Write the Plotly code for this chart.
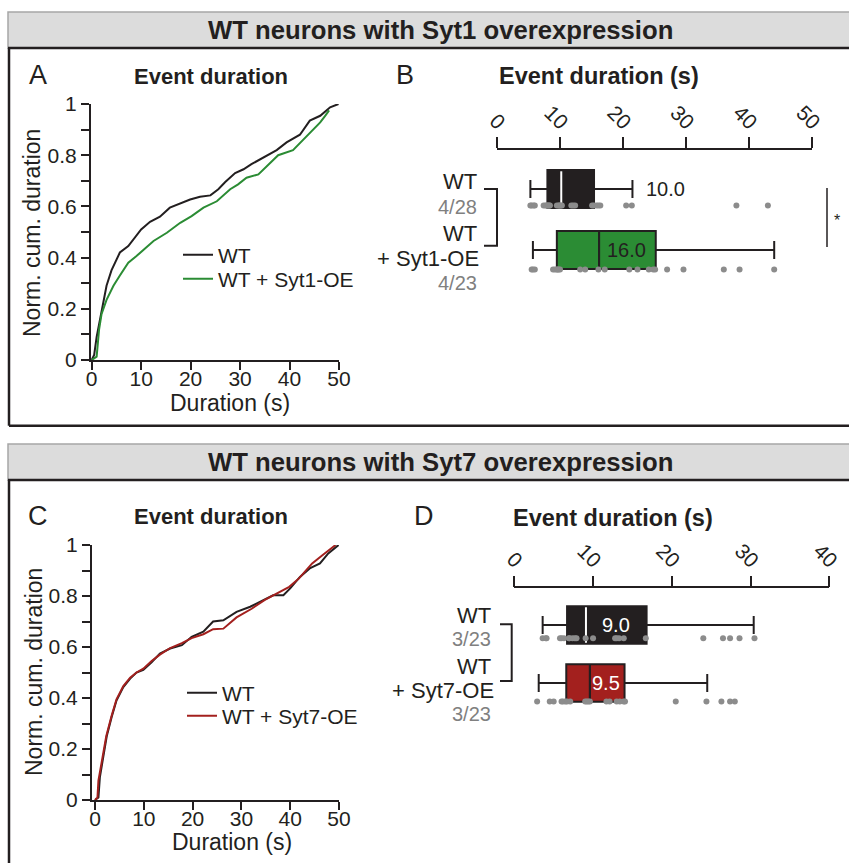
import plotly.graph_objects as go

W, H = 849, 863
DARK = "#231f20"
GREEN = "#2b8c34"
RED = "#a3201e"
PTGREY = "#8c8c8c"
TXTGREY = "#808080"
FONT = "Liberation Sans, Arial, sans-serif"

# ---------------- data ----------------
# Panel A: normalized cumulative duration
a_wt_x = [0, 0.5, 1, 1.5, 2, 3, 4, 5, 5.7, 7.4, 8.4, 10, 11.8, 13.8, 15.8, 18.2, 19.9, 21.9, 24, 25.6,
          27, 29, 30.7, 32.3, 34.7, 37.4, 39.4, 42.1, 44.1, 46.2, 48.2, 49.9]
a_wt_y = [0, 0.02, 0.09, 0.14, 0.2, 0.29, 0.35, 0.39, 0.42, 0.445, 0.47, 0.51, 0.54, 0.56, 0.595, 0.615,
          0.627, 0.638, 0.643, 0.667, 0.695, 0.73, 0.745, 0.765, 0.79, 0.82, 0.85, 0.88, 0.935, 0.954, 0.987, 1.0]
a_oe_x = [0, 1, 1.5, 2, 3, 4.4, 5.7, 7.4, 9, 11.1, 12.5, 15.2, 17.9, 20.2, 22.6, 25.3, 28, 29.6, 31.3,
          33.7, 36, 37.7, 40.7, 42.8, 44.5, 46.2, 47.2, 48]
a_oe_y = [0, 0.013, 0.12, 0.18, 0.235, 0.29, 0.33, 0.38, 0.405, 0.44, 0.465, 0.497, 0.536, 0.562, 0.595,
          0.62, 0.667, 0.686, 0.712, 0.725, 0.77, 0.80, 0.82, 0.86, 0.895, 0.928, 0.954, 0.975]

# Panel C
c_wt_x = [0, 0.7, 1, 1.7, 2.4, 3.4, 4.4, 5.8, 7.2, 8.5, 9.9, 11.6, 13.3, 15.4, 17.8, 19.8, 22.2, 24.2,
          26.3, 29, 31.8, 34.5, 36.5, 38.6, 40, 42, 44, 46.1, 47.8, 49.9]
c_wt_y = [0, 0.01, 0.09, 0.17, 0.25, 0.325, 0.39, 0.443, 0.476, 0.50, 0.51, 0.54, 0.574, 0.594, 0.607,
          0.64, 0.66, 0.70, 0.705, 0.738, 0.758, 0.784, 0.803, 0.803, 0.83, 0.875, 0.908, 0.928, 0.967, 1.0]
c_oe_x = [0, 0.5, 0.7, 1.4, 2.3, 3.4, 4.4, 5.8, 7.2, 8.5, 9.9, 11.6, 13.3, 15.4, 17.8, 19.8, 22.2, 24.2,
          26.3, 29, 32.1, 34.8, 37.8, 39.8, 41.8, 44.5, 46.6, 49.3]
c_oe_y = [0, 0.01, 0.076, 0.155, 0.25, 0.33, 0.395, 0.447, 0.48, 0.50, 0.515, 0.545, 0.57, 0.596, 0.615,
          0.635, 0.65, 0.67, 0.672, 0.716, 0.75, 0.785, 0.817, 0.836, 0.869, 0.928, 0.96, 1.0]

# Panel B: box stats (s) and per-neuron points
b_groups = ["WT", "WT + Syt1-OE"]
b_q1 = [8.0, 9.5]
b_median = [10.2, 16.2]
b_q3 = [15.4, 25.2]
b_lo = [5.3, 5.7]
b_hi = [21.5, 44.0]
b_median_text = ["10.0", "16.0"]
b_n = ["4/28", "4/23"]
b_wt_pts = [5.3, 5.5, 5.8, 6.0, 7.4, 7.7, 7.9, 8.0, 8.1, 8.3, 8.4, 9.5, 9.8, 9.9, 10.1, 10.3, 11.8, 12.1,
            12.4, 15.1, 15.4, 15.8, 16.1, 16.4, 20.5, 21.4, 38.0, 43.0]
b_oe_pts = [5.5, 5.7, 6.0, 8.9, 9.2, 9.5, 9.6, 9.8, 10.0, 13.2, 14.0, 16.1, 17.1, 21.0, 22.3, 24.1, 24.8,
            25.1, 27.0, 29.6, 36.0, 38.5, 44.0]

# Panel D
d_groups = ["WT", "WT + Syt7-OE"]
d_q1 = [6.7, 6.6]
d_median = [9.1, 9.6]
d_q3 = [16.8, 14.0]
d_lo = [3.6, 3.1]
d_hi = [30.4, 24.5]
d_median_text = ["9.0", "9.5"]
d_n = ["3/23", "3/23"]
d_wt_pts = [3.6, 4.0, 5.8, 6.0, 6.3, 6.95, 7.0, 7.4, 7.7, 9.06, 10.0, 12.8, 13.0, 13.3, 13.9, 16.7, 24.0,
            26.5, 27.4, 28.6, 30.5, 4.1, 7.9]
d_oe_pts = [2.9, 4.5, 5.0, 6.0, 6.2, 6.5, 6.7, 7.1, 9.0, 9.2, 9.4, 9.6, 11.7, 12.1, 13.0, 13.4, 13.9,
            14.06, 20.5, 24.4, 26.3, 27.4, 28.0]

cdf_ticks = [0, 10, 20, 30, 40, 50]
cdf_yticks = [0, 0.2, 0.4, 0.6, 0.8, 1]
cdf_yticktext = ["0", "0.2", "0.4", "0.6", "0.8", "1"]
b_ticks = [0, 10, 20, 30, 40, 50]
d_ticks = [0, 10, 20, 30, 40]


def px(x):
    return x / W


def py(y):
    return 1 - y / H


fig = go.Figure()

# ---------- CDF traces (each in its own one-entry legend) ----------
fig.add_trace(go.Scatter(x=a_wt_x, y=a_wt_y, mode="lines", line=dict(color=DARK, width=2),
                         name="WT", xaxis="x", yaxis="y", legend="legend"))
fig.add_trace(go.Scatter(x=a_oe_x, y=a_oe_y, mode="lines", line=dict(color=GREEN, width=2),
                         name="WT + Syt1-OE", xaxis="x", yaxis="y", legend="legend2"))
fig.add_trace(go.Scatter(x=c_wt_x, y=c_wt_y, mode="lines", line=dict(color=DARK, width=2),
                         name="WT", xaxis="x3", yaxis="y3", legend="legend3"))
fig.add_trace(go.Scatter(x=c_oe_x, y=c_oe_y, mode="lines", line=dict(color=RED, width=2),
                         name="WT + Syt7-OE", xaxis="x3", yaxis="y3", legend="legend4"))


# ---------- Box panels ----------
def add_box_panel(xa, ya, q1, med, q3, lo, hi, fills, med_colors, pts_list, pt_offsets, bw):
    positions = [1, 0]
    for i in range(2):
        fig.add_trace(go.Box(y=[positions[i]], q1=[q1[i]], median=[med[i]], q3=[q3[i]],
                             lowerfence=[lo[i]], upperfence=[hi[i]], orientation="h",
                             fillcolor=fills[i], line=dict(color=DARK, width=2), width=bw,
                             whiskerwidth=0.48, boxpoints=False, showlegend=False,
                             hoverinfo="skip", xaxis=xa, yaxis=ya))
        fig.add_trace(go.Scatter(x=[med[i], med[i]], y=[positions[i] - bw / 2 + 0.02, positions[i] + bw / 2 - 0.02],
                                 mode="lines", line=dict(color=med_colors[i], width=2),
                                 showlegend=False, hoverinfo="skip", xaxis=xa, yaxis=ya))
        pts = pts_list[i]
        fig.add_trace(go.Scatter(x=pts, y=[positions[i] - pt_offsets[i]] * len(pts), mode="markers",
                                 marker=dict(color=PTGREY, size=6, line=dict(width=0)),
                                 showlegend=False, hoverinfo="skip", xaxis=xa, yaxis=ya))


add_box_panel("x2", "y2", b_q1, b_median, b_q3, b_lo, b_hi, [DARK, GREEN], ["white", DARK],
              [b_wt_pts, b_oe_pts], [0.27, 0.32], 0.62)
add_box_panel("x4", "y4", d_q1, d_median, d_q3, d_lo, d_hi, [DARK, RED], ["white", DARK],
              [d_wt_pts, d_oe_pts], [0.23, 0.32], 0.65)

# ---------- axes ----------
tickfont = dict(family=FONT, size=21, color=DARK)
cdf_x = dict(range=[-0.2, 50], tickvals=cdf_ticks, ticks="outside", ticklen=8, tickwidth=1.5,
             tickcolor=DARK, showline=True, linecolor=DARK, linewidth=1.5, showgrid=False,
             zeroline=False, tickfont=tickfont, automargin=False, ticklabelstandoff=-9)
cdf_y = dict(range=[0, 1], tickvals=cdf_yticks, ticktext=cdf_yticktext, ticks="outside", ticklen=8,
             tickwidth=1.5, tickcolor=DARK, showline=True, linecolor=DARK, linewidth=1.5,
             showgrid=False, zeroline=False, tickfont=tickfont, automargin=False,
             minor=dict(tickvals=[0.1, 0.3, 0.5, 0.7, 0.9], ticks="outside", ticklen=8, tickwidth=1.5,
                        tickcolor=DARK, showgrid=False))
box_x = dict(side="top", ticks="outside", ticklen=11, tickwidth=1.5, tickcolor=DARK, showline=True,
             linecolor=DARK, linewidth=1.5, showgrid=False, zeroline=False, tickangle=45,
             tickfont=tickfont, automargin=False, ticklabelshift=7, ticklabelstandoff=-5)

fig.update_layout(
    template="none",
    xaxis=dict(domain=[px(90.7), px(339)], anchor="y", **cdf_x),
    yaxis=dict(domain=[py(360), py(104)], anchor="x", **cdf_y),
    xaxis3=dict(domain=[px(91.7), px(339)], anchor="y3", **{**cdf_x, "range": [-0.68, 50]}),
    yaxis3=dict(domain=[py(800), py(545)], anchor="x3", **cdf_y),
    xaxis2=dict(domain=[px(497), px(812)], anchor="y2", range=[0, 50], tickvals=b_ticks, **box_x),
    yaxis2=dict(domain=[py(290), py(150)], anchor="x2", range=[-0.656, 1.639], visible=False,
                type="linear", automargin=False),
    xaxis4=dict(domain=[px(514.3), px(829.3)], anchor="y4", range=[0, 40], tickvals=d_ticks, **box_x),
    yaxis4=dict(domain=[py(730), py(588.3)], anchor="x4", range=[-0.81, 1.633], visible=False,
                type="linear", automargin=False),
)

# ---------- legends ----------
legfont = dict(family=FONT, size=21, color=DARK)


def leg(x, y):
    return dict(x=px(x), y=py(y), xanchor="left", yanchor="middle", font=legfont,
                bgcolor="rgba(0,0,0,0)", borderwidth=0, itemwidth=30)


fig.update_layout(legend=leg(178, 255), legend2=leg(178, 279),
                  legend3=leg(182, 693), legend4=leg(182, 716))

# ---------- frames ----------
shapes = []
for top, bottom in [(12, 425.7), (444, 880)]:
    shapes.append(dict(type="rect", xref="paper", yref="paper", x0=px(8), x1=px(870), y0=py(top), y1=py(top + 36),
                       fillcolor="#dcdcdc", line=dict(color="#a6a6a6", width=1.5), layer="below"))
    shapes.append(dict(type="line", xref="paper", yref="paper", x0=px(8), x1=px(870), y0=py(top + 36), y1=py(top + 36),
                       line=dict(color=DARK, width=2.5)))
    shapes.append(dict(type="line", xref="paper", yref="paper", x0=px(9), x1=px(9), y0=py(top + 36), y1=py(bottom),
                       line=dict(color=DARK, width=2.5)))
    shapes.append(dict(type="line", xref="paper", yref="paper", x0=px(9), x1=px(870), y0=py(bottom), y1=py(bottom),
                       line=dict(color=DARK, width=2.5)))

# brackets
for (xl, xr, yt, yb) in [(484, 497, 189, 245.7), (500, 511.7, 624.3, 681)]:
    shapes.append(dict(type="path", xref="paper", yref="paper",
                       path=f"M {px(xl)},{py(yt)} L {px(xr)},{py(yt)} L {px(xr)},{py(yb)} L {px(xl)},{py(yb)}",
                       line=dict(color=DARK, width=2)))
# significance line
shapes.append(dict(type="line", xref="paper", yref="paper", x0=px(827), x1=px(827), y0=py(188), y1=py(247),
                   line=dict(color=DARK, width=1.5)))
fig.update_layout(shapes=shapes)

# ---------- annotations ----------
anns = []


def ann(text, x, y, size, color=DARK, xanchor="center", bold=False, xref="paper", yref="paper", **kw):
    t = f"<b>{text}</b>" if bold else text
    if xref == "paper":
        x = px(x)
    if yref == "paper":
        y = py(y)
    anns.append(dict(text=t, x=x, y=y, xref=xref, yref=yref, showarrow=False, xanchor=xanchor,
                     yanchor="middle", font=dict(family=FONT, size=size, color=color), **kw))


ann("WT neurons with Syt1 overexpression", 440, 30, 25.7, bold=True)
ann("WT neurons with Syt7 overexpression", 440, 462, 25.7, bold=True)
ann("A", 38, 75, 27)
ann("B", 405, 75, 27)
ann("C", 38, 516, 27)
ann("D", 424, 516, 27)
ann("Event duration", 211, 77, 22, bold=True)
ann("Event duration", 211, 516, 22, bold=True)
ann("Event duration (s)", 599, 76, 23.5, bold=True)
ann("Event duration (s)", 613, 518, 23.5, bold=True)
ann("Norm. cum. duration", 32, 233, 23, textangle=-90)
ann("Norm. cum. duration", 34, 672, 23, textangle=-90)
ann("Duration (s)", 230, 403, 23)
ann("Duration (s)", 232, 842, 23)

# panel B labels
ann("WT", 479, 181, 22, xanchor="right")
ann(b_n[0], 479, 207, 20, color=TXTGREY, xanchor="right")
ann("WT", 479, 233, 22, xanchor="right")
ann("+ Syt1-OE", 481, 258, 22, xanchor="right")
ann(b_n[1], 479, 283, 20, color=TXTGREY, xanchor="right")
ann("*", 837, 220, 16)
ann(b_median_text[0], 26.8, 1, 20, xref="x2", yref="y2")
ann(b_median_text[1], 20.6, 0, 20, xref="x2", yref="y2")

# panel D labels
ann("WT", 493, 615, 22, xanchor="right")
ann(d_n[0], 493, 639, 20, color=TXTGREY, xanchor="right")
ann("WT", 493, 666, 22, xanchor="right")
ann("+ Syt7-OE", 496, 690, 22, xanchor="right")
ann(d_n[1], 493, 714, 20, color=TXTGREY, xanchor="right")
ann(d_median_text[0], 12.9, 1, 20, color="white", xref="x4", yref="y4")
ann(d_median_text[1], 11.6, 0, 20, color="white", xref="x4", yref="y4")

fig.update_layout(annotations=anns)

fig.update_layout(width=W, height=H, autosize=False, margin=dict(l=0, r=0, t=0, b=0, pad=0),
                  paper_bgcolor="white", plot_bgcolor="rgba(0,0,0,0)", boxmode="overlay",
                  font=dict(family=FONT, color=DARK))

fig.write_html("out.html", config={"responsive": False, "displayModeBar": False},
               post_script="document.body.style.margin='0px';document.body.style.overflow='hidden';")
